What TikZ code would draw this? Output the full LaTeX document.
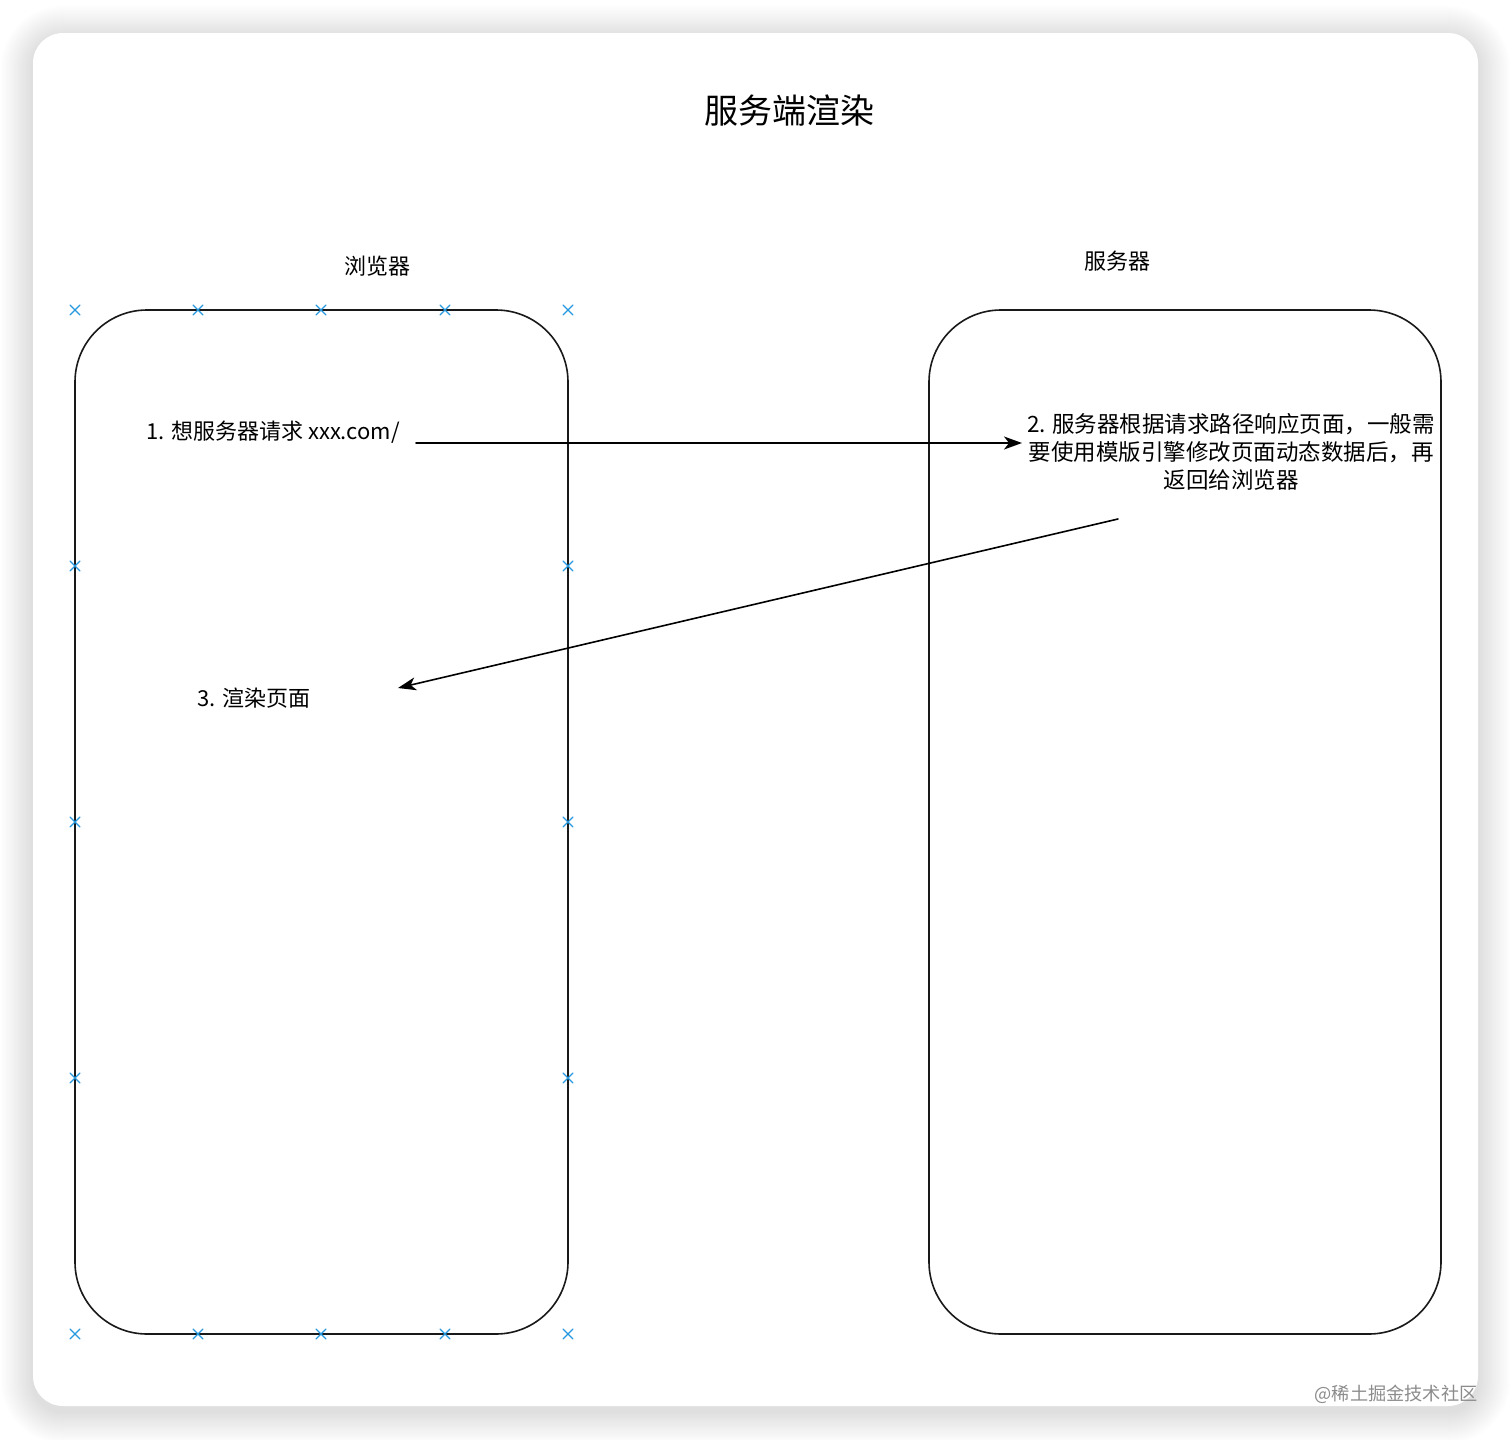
\documentclass[tikz,border=0pt]{standalone}
\usepackage{fontspec}
\setmainfont{Noto Sans CJK SC}
\usetikzlibrary{arrows.meta}
\definecolor{markblue}{RGB}{38,152,222}
\begin{document}
\begin{tikzpicture}[x=0.5pt,y=-0.5pt,>={Stealth[length=9pt,width=6.5pt,inset=2.5pt]}, font=\fontsize{11}{14}\selectfont, line join=round, line cap=round]
		\tikzset{pane/.style={draw=black!90, line width=0.8pt, rounded corners=36pt},
			mk/.style={markblue, line width=0.55pt},
			lbl/.style={inner sep=0pt, align=center}}
		\def\lx{75} \def\rx{568} \def\ty{310} \def\by{1334} % 浏览器框
		\useasboundingbox (0,0) rectangle (1512,1440);
		\fill[white] (0,0) rectangle (1512,1440);
		\foreach \i in {1,...,16}
		\fill[black, opacity=0.0065, rounded corners=15pt+\i*1pt] (33-\i*2,33-\i*2+5) rectangle (1478+\i*2,1406+\i*2+5);
		\fill[white, rounded corners=15pt] (33,33) rectangle (1478,1406);
		% 标题
		\node[lbl, font=\fontsize{17}{20}\selectfont] (title) at (789,111) {服务端渲染};
		\node[lbl] (browser) at (377,266) {浏览器};
		\node[lbl] (server) at (1117,261) {服务器};
		% 两个框
		\draw[pane] (\lx,\ty) rectangle (\rx,\by);
		\draw[pane] (929,\ty) rectangle (1441,\by);
		% 选中标记
		\foreach \x in {75,198,321,445,568}
		\foreach \y in {\ty,\by}
		\draw[mk] (\x-5,\y-5)--(\x+5,\y+5) (\x-5,\y+5)--(\x+5,\y-5);
		\foreach \x in {\lx,\rx}
		\foreach \y in {566,822,1078}
		\draw[mk] (\x-5,\y-5)--(\x+5,\y+5) (\x-5,\y+5)--(\x+5,\y-5);
		% 文字
		\node[lbl] (req) at (273,432) {1. 想服务器请求 xxx.com/};
		\node[lbl, font=\fontsize{11.25}{14}\selectfont] (resp) at (1231,452) {2. 服务器根据请求路径响应页面，一般需\\要使用模版引擎修改页面动态数据后，再\\返回给浏览器};
		\node[lbl] (render) at (254,698) {3. 渲染页面};
		\node[lbl, text=black!45, font=\fontsize{9.1}{11}\selectfont] (mark) at (1396,1394) {@稀土掘金技术社区};
		% 箭头
		\coordinate (a1) at (416,443); \coordinate (b1) at (1022,443);
		\coordinate (a2) at (1118,519); \coordinate (b2) at (398,688);
		\draw[->, line width=0.8pt] (a1)--(b1);
		\draw[->, line width=0.8pt] (a2)--(b2);
		\end{tikzpicture}
\end{document}
